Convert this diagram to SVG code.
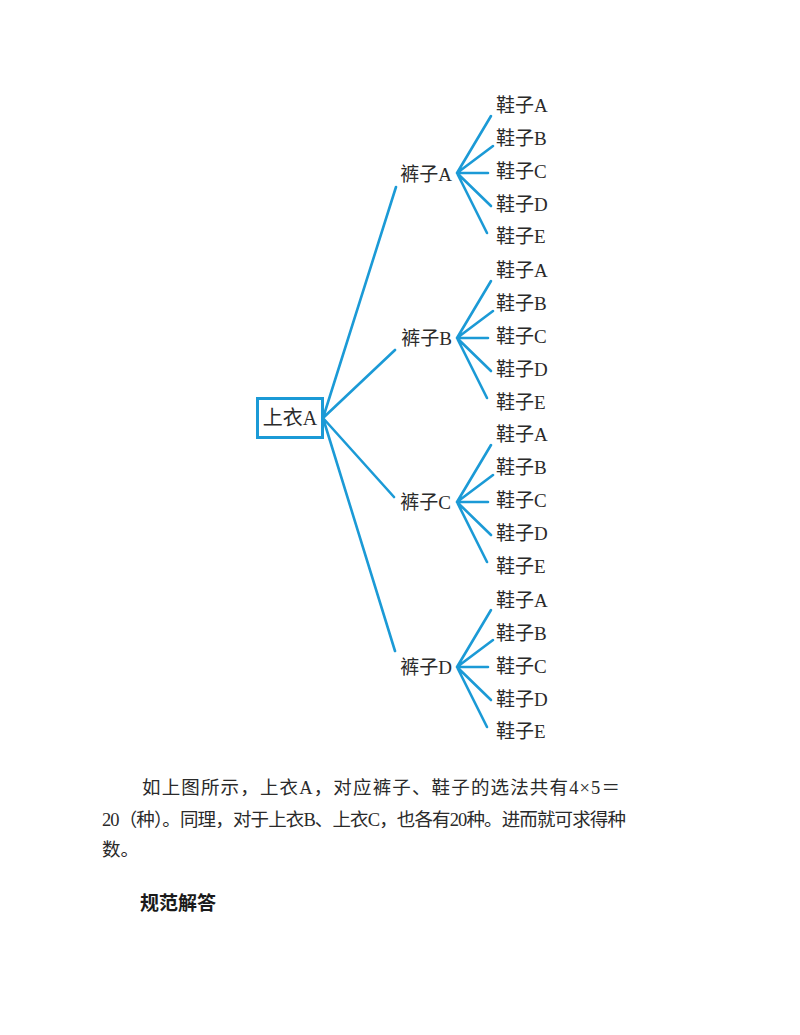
<svg xmlns="http://www.w3.org/2000/svg" width="800" height="1035" viewBox="0 0 800 1035">
<style>
.t{font-family:"Liberation Serif","Noto Sans CJK SC",serif;font-size:19px;fill:#2a2a2a}
.p{font-family:"Liberation Serif","Noto Sans CJK SC",serif;font-size:18.5px;fill:#2a2a2a}
.h{font-family:"Noto Sans CJK SC",sans-serif;font-size:19px;font-weight:bold;fill:#1a1a1a}
.c{stroke:#1b9ad6;stroke-width:2.6;fill:none;stroke-linecap:round}
.box{stroke:#1b9ad6;stroke-width:3;fill:#fff}
</style>
<rect width="800" height="1035" fill="#fff"/>
<g id="connectors" class="c">
<path d="M323 418L396 187M323 418L395 350M323 418L394 497M323 418L395 651"/>
<path d="M457 173L491 116M457 173L493 146M457 173L488 173M457 173L491 206M457 173L487 233"/>
<path d="M457 338L491 281M457 338L493 311M457 338L488 338M457 338L491 371M457 338L487 398"/>
<path d="M457 502L491 445M457 502L493 475M457 502L488 502M457 502L491 535M457 502L487 562"/>
<path d="M457 667L491 610M457 667L493 640M457 667L488 667M457 667L491 700M457 667L487 727"/>
</g>
<g id="shirtA"><rect class="box" x="257.5" y="398.5" width="65" height="39"/><text class="t" x="290" y="418" dy="0.35em" text-anchor="middle" style="font-size:20px">上衣A</text></g>
<g id="pantsA"><text class="t" x="452" y="174" dy="0.35em" text-anchor="end">裤子A</text></g>
<g id="pantsB"><text class="t" x="452" y="338" dy="0.35em" text-anchor="end">裤子B</text></g>
<g id="pantsC"><text class="t" x="451" y="502" dy="0.35em" text-anchor="end">裤子C</text></g>
<g id="pantsD"><text class="t" x="452" y="667" dy="0.35em" text-anchor="end">裤子D</text></g>
<g id="shoesAA"><text class="t" x="496" y="105" dy="0.35em">鞋子A</text></g>
<g id="shoesAB"><text class="t" x="496" y="138" dy="0.35em">鞋子B</text></g>
<g id="shoesAC"><text class="t" x="496" y="171" dy="0.35em">鞋子C</text></g>
<g id="shoesAD"><text class="t" x="496" y="204" dy="0.35em">鞋子D</text></g>
<g id="shoesAE"><text class="t" x="496" y="236" dy="0.35em">鞋子E</text></g>
<g id="shoesBA"><text class="t" x="496" y="270" dy="0.35em">鞋子A</text></g>
<g id="shoesBB"><text class="t" x="496" y="303" dy="0.35em">鞋子B</text></g>
<g id="shoesBC"><text class="t" x="496" y="336" dy="0.35em">鞋子C</text></g>
<g id="shoesBD"><text class="t" x="496" y="369" dy="0.35em">鞋子D</text></g>
<g id="shoesBE"><text class="t" x="496" y="402" dy="0.35em">鞋子E</text></g>
<g id="shoesCA"><text class="t" x="496" y="434" dy="0.35em">鞋子A</text></g>
<g id="shoesCB"><text class="t" x="496" y="467" dy="0.35em">鞋子B</text></g>
<g id="shoesCC"><text class="t" x="496" y="500" dy="0.35em">鞋子C</text></g>
<g id="shoesCD"><text class="t" x="496" y="533" dy="0.35em">鞋子D</text></g>
<g id="shoesCE"><text class="t" x="496" y="566" dy="0.35em">鞋子E</text></g>
<g id="shoesDA"><text class="t" x="496" y="600" dy="0.35em">鞋子A</text></g>
<g id="shoesDB"><text class="t" x="496" y="633" dy="0.35em">鞋子B</text></g>
<g id="shoesDC"><text class="t" x="496" y="666" dy="0.35em">鞋子C</text></g>
<g id="shoesDD"><text class="t" x="496" y="699" dy="0.35em">鞋子D</text></g>
<g id="shoesDE"><text class="t" x="496" y="731" dy="0.35em">鞋子E</text></g>
<g id="paragraph">
<text class="p" x="142" y="788" dy="0.35em" textLength="478" lengthAdjust="spacing">如上图所示，上衣A，对应裤子、鞋子的选法共有4×5＝</text>
<text class="p" x="102" y="820" dy="0.35em" textLength="524" lengthAdjust="spacing">20（种）。同理，对于上衣B、上衣C，也各有20种。进而就可求得种</text>
<text class="p" x="102" y="850" dy="0.35em">数。</text>
<text class="h" x="140" y="903" dy="0.35em">规范解答</text>
</g>
</svg>
